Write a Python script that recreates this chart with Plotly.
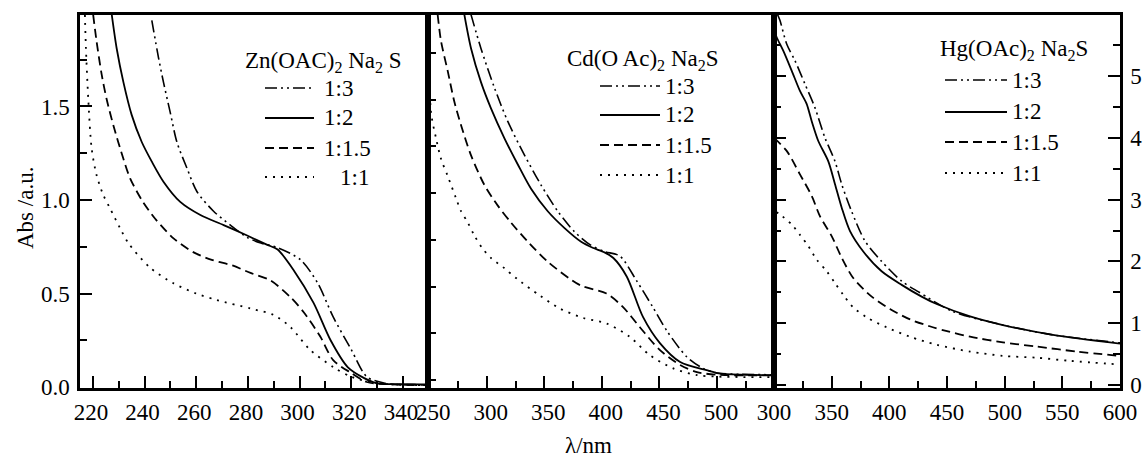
import plotly.graph_objects as go

# ---------------- data ----------------
series_names = ["1:3", "1:2", "1:1.5", "1:1"]

# Panel 1: Zn(OAC)2 / Na2S
zn_x_13 = [242.8, 245.4, 247.3, 249.9, 252.5, 256.4, 260.3, 266.7, 273.2, 279.7, 285, 291.5, 300.4, 307, 313, 320, 326, 333, 340, 349.7]
zn_y_13 = [1.96, 1.76, 1.63, 1.47, 1.31, 1.17, 1.044, 0.94, 0.866, 0.80, 0.77, 0.745, 0.68, 0.556, 0.375, 0.20, 0.055, 0.02, 0.012, 0.01]
zn_x_12 = [227.3, 229.2, 231.8, 235, 238.9, 242.8, 247.3, 253.8, 261.6, 270.6, 279.7, 287.5, 291.5, 297.7, 305.4, 312, 318.6, 325, 330, 340, 349.7]
zn_y_12 = [1.99, 1.81, 1.63, 1.455, 1.31, 1.205, 1.098, 0.99, 0.92, 0.866, 0.81, 0.76, 0.735, 0.625, 0.45, 0.25, 0.107, 0.048, 0.02, 0.015, 0.014]
zn_x_115 = [220.1, 221.4, 223.4, 225.3, 227.9, 231.8, 234.4, 238.9, 244.1, 251.2, 259, 266, 274, 281, 288.7, 296.5, 301.6, 308, 313, 320, 326, 335, 349.7]
zn_y_115 = [1.99, 1.85, 1.67, 1.54, 1.40, 1.22, 1.116, 1.0, 0.90, 0.795, 0.72, 0.68, 0.65, 0.61, 0.57, 0.48, 0.40, 0.27, 0.144, 0.075, 0.027, 0.015, 0.012]
zn_x_11 = [216.9, 217.3, 218.2, 219.5, 221.4, 224, 226.6, 230.5, 233.7, 242, 251, 260, 268, 281, 290, 296.5, 304, 313, 320, 330, 349.7]
zn_y_11 = [1.99, 1.81, 1.54, 1.276, 1.134, 1.027, 0.956, 0.85, 0.77, 0.64, 0.556, 0.50, 0.465, 0.42, 0.385, 0.32, 0.20, 0.107, 0.055, 0.02, 0.01]

# Panel 2: Cd(O Ac)2 / Na2S
cd_x_13 = [286.4, 295, 306.7, 318.3, 332.8, 347.2, 361.7, 376.3, 390, 402, 415.7, 430, 444, 456.5, 474, 488, 500, 520, 549.5]
cd_y_13 = [1.99, 1.81, 1.60, 1.42, 1.24, 1.08, 0.94, 0.83, 0.76, 0.725, 0.70, 0.57, 0.43, 0.30, 0.16, 0.10, 0.075, 0.068, 0.066]
cd_x_12 = [280.6, 286.4, 295, 303.7, 315.4, 327, 338.5, 353, 367.6, 382, 392, 402.3, 410, 421.7, 435.7, 450.4, 468, 491, 500, 520, 549.5]
cd_y_12 = [1.99, 1.81, 1.63, 1.49, 1.33, 1.19, 1.06, 0.94, 0.85, 0.777, 0.745, 0.72, 0.69, 0.59, 0.375, 0.235, 0.134, 0.09, 0.075, 0.066, 0.064]
cd_x_115 = [257.4, 260.3, 266.1, 271.9, 277.7, 286.3, 298, 309.6, 321, 335.7, 353, 381, 404, 418, 433, 450, 468, 482.6, 500, 549.5]
cd_y_115 = [1.99, 1.85, 1.69, 1.525, 1.40, 1.24, 1.08, 0.97, 0.88, 0.777, 0.67, 0.545, 0.50, 0.43, 0.32, 0.20, 0.118, 0.08, 0.066, 0.062]
cd_x_11 = [249.5, 251.6, 256, 260.3, 266, 273.3, 277.7, 283.5, 289.3, 296.5, 303.7, 315.4, 326, 346, 363.5, 383.5, 404, 424, 441.7, 462, 482.6, 500, 549.5]
cd_y_11 = [1.99, 1.47, 1.33, 1.22, 1.13, 1.01, 0.94, 0.88, 0.81, 0.74, 0.69, 0.635, 0.58, 0.49, 0.42, 0.37, 0.34, 0.27, 0.17, 0.10, 0.064, 0.056, 0.053]

# Panel 3: Hg(OAc)2 / Na2S
hg_x_13 = [303, 305.2, 311, 318.2, 326.9, 335.5, 344.2, 352.9, 358.7, 367.3, 378.9, 393.3, 410.7, 425, 455, 498.5, 541.8, 600]
hg_y_13 = [6.0, 5.90, 5.52, 5.25, 4.87, 4.49, 4.0, 3.62, 3.25, 2.81, 2.33, 2.0, 1.68, 1.51, 1.19, 0.97, 0.81, 0.68]
hg_x_12 = [300, 302.3, 308.1, 315.3, 322.5, 328.3, 332.7, 338.4, 347.1, 352.9, 358.7, 365.9, 377.4, 393.3, 410.7, 428, 441, 470, 498.5, 541.8, 600]
hg_y_12 = [5.75, 5.63, 5.41, 5.09, 4.76, 4.55, 4.27, 3.95, 3.62, 3.25, 2.87, 2.49, 2.16, 1.84, 1.62, 1.43, 1.31, 1.11, 0.97, 0.81, 0.67]
hg_x_115 = [300, 311, 322.5, 332.7, 339.9, 350, 358.7, 368.7, 384.7, 400.5, 418, 435, 450, 470, 498.5, 528, 562.5, 600]
hg_y_115 = [4.0, 3.79, 3.41, 3.06, 2.73, 2.41, 2.06, 1.73, 1.43, 1.23, 1.06, 0.95, 0.87, 0.78, 0.69, 0.62, 0.54, 0.47]
hg_x_11 = [302, 305.2, 315.3, 322.5, 329.7, 337, 345.7, 352.9, 360, 368.5, 380.6, 398, 418, 441, 470, 498.5, 528, 556.5, 600]
hg_y_11 = [2.80, 2.76, 2.60, 2.43, 2.25, 2.03, 1.84, 1.65, 1.46, 1.26, 1.09, 0.93, 0.78, 0.65, 0.54, 0.47, 0.44, 0.39, 0.33]

panel_titles = ["Zn(OAC)<sub>2</sub> Na<sub>2</sub> S", "Cd(O Ac)<sub>2</sub> Na<sub>2</sub>S", "Hg(OAc)<sub>2</sub> Na<sub>2</sub>S"]

panels = [
    [(zn_x_13, zn_y_13), (zn_x_12, zn_y_12), (zn_x_115, zn_y_115), (zn_x_11, zn_y_11)],
    [(cd_x_13, cd_y_13), (cd_x_12, cd_y_12), (cd_x_115, cd_y_115), (cd_x_11, cd_y_11)],
    [(hg_x_13, hg_y_13), (hg_x_12, hg_y_12), (hg_x_115, hg_y_115), (hg_x_11, hg_y_11)],
]

# ---------------- style ----------------
FONT = "Liberation Serif, Times New Roman, serif"
FS = 23
W, H = 1144, 461
ML, MR, MT, MB = 80, 24, 15, 73
PW, PH = W - ML - MR, H - MT - MB

def px(xp):
    return (xp - ML) / PW

def py(yp):
    return 1 - (yp - MT) / PH

dashes = ["12px,4px,2px,4px,2px,4px", "solid", "9px,5px", "2px,6px"]
widths = [1.6, 1.8, 1.8, 1.8]

fig = go.Figure()
axis_suffix = ["", "2", "3"]
for p, series in enumerate(panels):
    for s, (xs, ys) in enumerate(series):
        fig.add_trace(go.Scatter(
            x=xs, y=ys, mode="lines", name=series_names[s],
            line=dict(color="black", width=widths[s], dash=dashes[s], shape="spline", smoothing=0.8),
            xaxis="x" + axis_suffix[p], yaxis="y" + axis_suffix[p],
            showlegend=False, hoverinfo="x+y+name",
        ))

d1, d2 = 348 / PW, 694 / PW
tf = dict(family=FONT, size=FS, color="black")
common = dict(showline=True, linecolor="black", linewidth=2.5, mirror=True, automargin=False,
              showgrid=False, zeroline=False, ticks="inside", ticklen=12, tickwidth=2,
              tickcolor="black", tickfont=tf)
minor = dict(ticks="inside", ticklen=7, tickwidth=2, tickcolor="black", showgrid=False)

fig.update_layout(
    width=W, height=H,
    margin=dict(l=ML, r=MR, t=MT, b=MB, autoexpand=False),
    paper_bgcolor="white", plot_bgcolor="white",
    font=tf,
    showlegend=False,
    xaxis=dict(domain=[0, d1], range=[215, 349.7], tick0=220, dtick=20, ticklabelstandoff=2,
               ticklabelshift=-2, minor=dict(dtick=10, **minor), anchor="y", **common),
    yaxis=dict(range=[-0.005, 1.989], tick0=0, dtick=0.5, tickformat=".1f", ticklabelstandoff=3,
               minor=dict(dtick=0.25, **minor), anchor="x", **common),
    xaxis2=dict(domain=[d1, d2], range=[249, 549.5], tick0=250, dtick=50, ticklabelstandoff=2,
                ticklabelshift=4, minor=dict(dtick=25, **minor), anchor="y2", **common),
    yaxis2=dict(range=[-0.005, 1.989], tick0=0.037, dtick=0.25, showticklabels=False,
                anchor="x2", **{**common, "ticklen": 8}),
    xaxis3=dict(domain=[d2, 1], range=[300, 600], tick0=300, dtick=50, ticklabelstandoff=2,
                minor=dict(dtick=25, **minor), anchor="y3", **common),
    yaxis3=dict(range=[-0.05, 5.99], tick0=0, dtick=1, side="right", ticklabelstandoff=3,
                minor=dict(dtick=0.5, **minor), anchor="x3",
                **{**common, "mirror": "ticks"}),
)

# ---------------- legends (drawn as keys + text) ----------------
legend_layout = [
    dict(title=(243, 62), sx=(265, 314), lx=[322, 322, 322, 338], ry=[88, 118, 148, 177]),
    dict(title=(565, 60), sx=(600, 660), lx=[663, 663, 663, 663], ry=[86, 115, 145, 175]),
    dict(title=(938, 50), sx=(945, 1007), lx=[1010, 1010, 1010, 1010], ry=[80, 112, 142, 173]),
]
for p, L in enumerate(legend_layout):
    fig.add_annotation(text=panel_titles[p], xref="paper", yref="paper",
                       x=px(L["title"][0]), y=py(L["title"][1]), xanchor="left", yanchor="middle",
                       showarrow=False, font=tf)
    for s in range(4):
        yrow = L["ry"][s]
        fig.add_shape(type="line", xref="paper", yref="paper",
                      x0=px(L["sx"][0]), x1=px(L["sx"][1]), y0=py(yrow), y1=py(yrow),
                      line=dict(color="black", width=widths[s], dash=dashes[s]))
        fig.add_annotation(text=series_names[s], xref="paper", yref="paper",
                           x=px(L["lx"][s]), y=py(yrow), xanchor="left", yanchor="middle",
                           showarrow=False, font=tf)

fig.add_annotation(text="λ/nm", xref="paper", yref="paper", x=px(588), y=py(445),
                   xanchor="center", yanchor="middle", showarrow=False, font=tf)
fig.add_annotation(text="Abs /a.u.", xref="paper", yref="paper", x=px(25), y=py(208),
                   xanchor="center", yanchor="middle", textangle=-90, showarrow=False, font=tf)

fig.write_html("out.html")
